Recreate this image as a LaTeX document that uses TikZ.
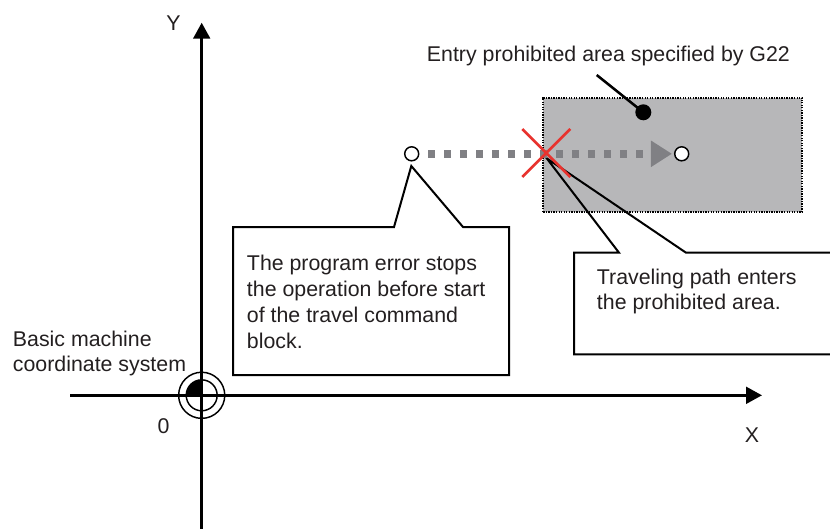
\documentclass[tikz,border=0pt]{standalone}
\usepackage{fontspec}
\setmainfont{Liberation Sans}
\usetikzlibrary{arrows.meta}

\definecolor{areagray}{HTML}{B7B7B9}
\definecolor{pathgray}{HTML}{808084}
\definecolor{crossred}{HTML}{E8332E}
\definecolor{textgray}{HTML}{231F20}

\begin{document}
\begin{tikzpicture}[x=0.75pt, y=-0.75pt, font=\fontsize{16}{19.5}\selectfont, text=textgray,
  axis/.style={line width=2.25pt, -{Triangle[length=12pt, width=12.5pt]}},
  endpt/.style={circle, draw, line width=1.1pt, fill=white, minimum size=10.5pt, inner sep=0pt},
  callout/.style={draw, line width=1.5pt, line join=miter},
  label/.style={anchor=base west, inner sep=0pt}]
  \useasboundingbox (0,0) rectangle (830,528);
  \clip (0,0) rectangle (830,528);

  % Axes and machine origin
  \coordinate (O) at (201.7, 395.3);
  \coordinate (xstart) at (70, 395.3);
  \coordinate (xend) at (762, 395.3);
  \coordinate (ystart) at (201.7, 530);
  \coordinate (yend) at (201.7, 22.7);
  \draw[axis] (xstart) -- (xend);
  \draw[axis] (ystart) -- (yend);
  \fill (O) -- ++(-11.6pt, 0) arc[start angle=180, end angle=90, radius=11.6pt] -- cycle;
  \draw[line width=1.1pt] (O) circle[radius=11.6pt];
  \draw[line width=1.1pt] (O) circle[radius=17.3pt];

  \node[anchor=base] (ylabel) at (173.5, 30.7) {Y};
  \node[anchor=base] (xlabel) at (752, 442.7) {X};
  \node[anchor=base] (zero) at (163.5, 433) {0};
  \node[label] (basic1) at (12.7, 346.7) {Basic machine};
  \node[label] (basic2) at (12.7, 371.7) {coordinate system};

  % Entry prohibited area (G22)
  \node[draw, fill=areagray, line width=1.6pt, dash pattern=on 1pt off 0.9pt,
        minimum width=194.25pt, minimum height=85.5pt, inner sep=0pt] (area) at (672.8, 154.7) {};
  \node[label] (arealabel) at (426.7, 61.7) {Entry prohibited area specified by G22};
  \coordinate (leadstart) at (596.7, 75);
  \node[circle, fill=black, minimum size=12pt, inner sep=0pt] (areadot) at (643.3, 112.3) {};
  \draw[line width=1.9pt] (leadstart) -- (areadot.center);

  % Callouts
  \coordinate (tip1) at (411.3, 166);
  \draw[callout] (394, 227) -- (233, 227) -- (233, 375) -- (509, 375) -- (509, 227) -- (463, 227) -- (tip1) -- cycle;
  \node[label] (stop1) at (246.7, 270.7) {The program error stops};
  \node[label] (stop2) at (246.7, 296.7) {the operation before start};
  \node[label] (stop3) at (246.7, 322.7) {of the travel command};
  \node[label] (stop4) at (246.7, 348.7) {block.};

  \coordinate (tip2) at (546.7, 158.3);
  \draw[callout] (619, 252.7) -- (574, 252.7) -- (574, 354.3) -- (845, 354.3) -- (845, 252.7) -- (686, 252.7) -- (tip2) -- cycle;
  \node[label] (enter1) at (596.7, 284) {Traveling path enters};
  \node[label] (enter2) at (596.7, 309) {the prohibited area.};

  % Travel command path
  \node[endpt] (start) at (411.7, 153.8) {};
  \node[endpt] (goal) at (681.7, 153.8) {};
  \draw[pathgray, line width=6pt, dash pattern=on 5.3pt off 6.7pt, dash phase=5.3pt,
        -{Triangle[length=15.75pt, width=18.75pt]}] (start.east) -- ([xshift=-1.5pt]goal.west);

  % Stop mark where the path enters the area
  \coordinate (entry) at (546.3, 153);
  \draw[crossred, line width=2pt] ([shift={(-24,-24)}]entry) -- ([shift={(24,24)}]entry)
                                  ([shift={(24,-24)}]entry) -- ([shift={(-24,24)}]entry);
\end{tikzpicture}
\end{document}
